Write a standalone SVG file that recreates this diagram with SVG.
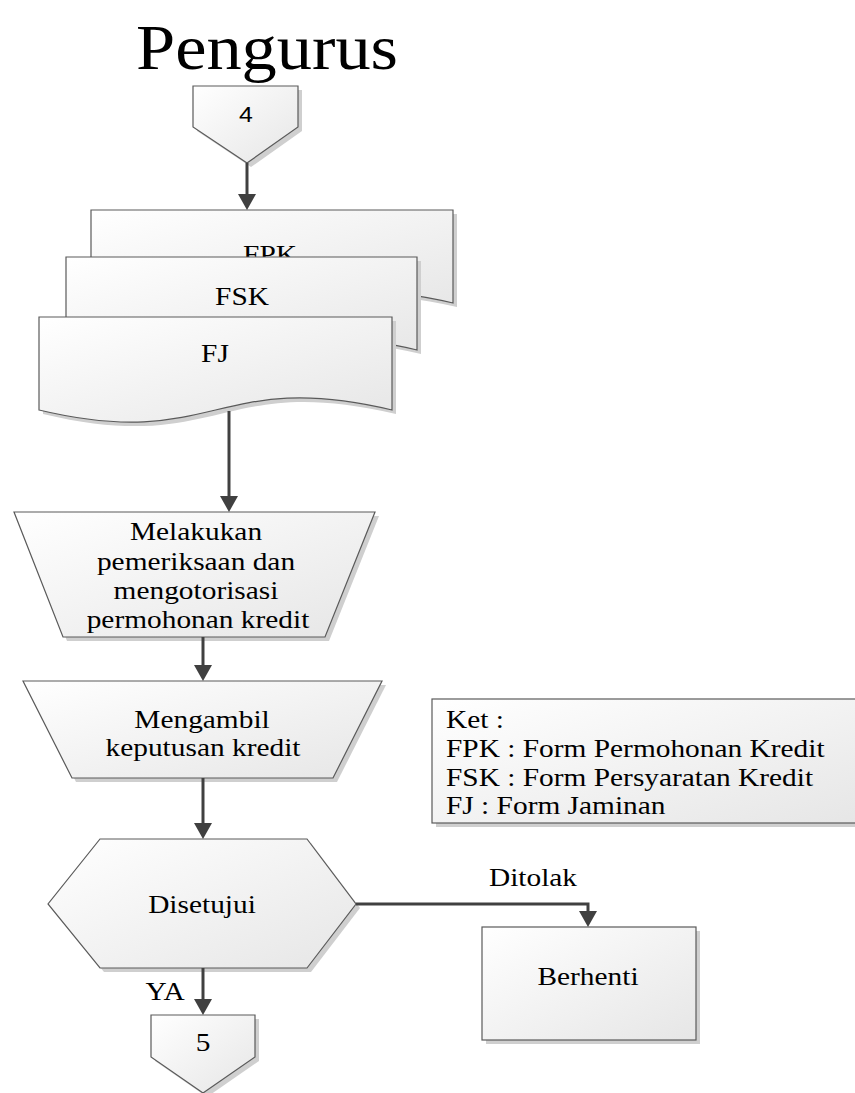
<svg xmlns="http://www.w3.org/2000/svg" width="855" height="1093" viewBox="0 0 855 1093">
  <defs>
    <linearGradient id="fillGrad" x1="0" y1="0" x2="1" y2="1">
      <stop offset="0" stop-color="#ffffff"/>
      <stop offset="1" stop-color="#e6e6e6"/>
    </linearGradient>
    <marker id="ah" markerWidth="16" markerHeight="18" refX="6" refY="9" orient="auto" markerUnits="userSpaceOnUse" viewBox="0 0 16 18">
      <path d="M0,0 L16,9 L0,18 Z" fill="#404040"/>
    </marker>
  </defs>
  <style>
    .shape { fill: url(#fillGrad); stroke: #5a5a5a; stroke-width: 1.2; }
    .shadow { fill: #cfcfcf; stroke: none; }
    .lbl { font-family: "Liberation Serif", "Times New Roman", serif; font-size: 26px; fill: #000; text-anchor: middle; }
    .lbl-l { font-family: "Liberation Serif", "Times New Roman", serif; font-size: 26px; fill: #000; text-anchor: start; }
    .conn { fill: none; stroke: #404040; stroke-width: 3; marker-end: url(#ah); }
  </style>

  <text id="title" class="lbl" style="font-size:64px" transform="translate(267,69) scale(1.1,1)">Pengurus</text>

  <g id="conn4">
    <path class="shadow" d="M197,90 H302 V131 L251,167 L197,131 Z"/>
    <path class="shape" d="M193,86 H298 V127 L247,163 L193,127 Z"/>
    <text class="lbl" style="font-family:'Liberation Sans',Arial,sans-serif;font-size:22px" transform="translate(246,122) scale(1.13,1)">4</text>
  </g>

  <g id="docFPK">
    <path class="shadow" d="M95,214 H457 V307 C276,265 276,349 95,307 Z"/>
    <path class="shape" d="M91,210 H453 V303 C272,261 272,345 91,303 Z"/>
    <text class="lbl" transform="translate(270,263) scale(1.13,1)">FPK</text>
  </g>

  <g id="docFSK">
    <path class="shadow" d="M70,261 H421 V354 C245.5,312 245.5,396 70,354 Z"/>
    <path class="shape" d="M66,257 H417 V350 C241.5,308 241.5,392 66,350 Z"/>
    <text class="lbl" transform="translate(242,305) scale(1.13,1)">FSK</text>
  </g>

  <g id="docFJ">
    <path class="shadow" d="M43,321 H396 V414 C219.5,372 219.5,456 43,414 Z"/>
    <path class="shape" d="M39,317 H392 V410 C215.5,368 215.5,452 39,410 Z"/>
    <text class="lbl" transform="translate(215,362) scale(1.13,1)">FJ</text>
  </g>

  <g id="manual1">
    <path class="shadow" d="M18,516 H379 L329,641 H67 Z"/>
    <path class="shape" d="M14,512 H375 L325,637 H63 Z"/>
    <text class="lbl" transform="translate(196,540) scale(1.13,1)">Melakukan</text>
    <text class="lbl" transform="translate(196,570) scale(1.13,1)">pemeriksaan dan</text>
    <text class="lbl" transform="translate(196,599) scale(1.13,1)">mengotorisasi</text>
    <text class="lbl" transform="translate(198,628) scale(1.13,1)">permohonan kredit</text>
  </g>

  <g id="manual2">
    <path class="shadow" d="M27,685 H386 L337,782 H76 Z"/>
    <path class="shape" d="M23,681 H382 L333,778 H72 Z"/>
    <text class="lbl" transform="translate(202,728) scale(1.13,1)">Mengambil</text>
    <text class="lbl" transform="translate(203,756) scale(1.13,1)">keputusan kredit</text>
  </g>

  <g id="ket">
    <rect class="shadow" x="436" y="703" width="430" height="124"/>
    <rect class="shape" x="432" y="699" width="430" height="124"/>
    <text class="lbl-l" transform="translate(446,728) scale(1.13,1)">Ket :</text>
    <text class="lbl-l" transform="translate(446,757) scale(1.13,1)">FPK : Form Permohonan Kredit</text>
    <text class="lbl-l" transform="translate(446,786) scale(1.13,1)">FSK : Form Persyaratan Kredit</text>
    <text class="lbl-l" transform="translate(446,814) scale(1.13,1)">FJ : Form Jaminan</text>
  </g>

  <g id="decision">
    <path class="shadow" d="M104,843 H311 L360,908 L311,972 H104 L52,908 Z"/>
    <path class="shape" d="M100,839 H307 L356,904 L307,968 H100 L48,904 Z"/>
    <text class="lbl" transform="translate(202,913) scale(1.13,1)">Disetujui</text>
  </g>

  <g id="berhenti">
    <rect class="shadow" x="486" y="931" width="214" height="113"/>
    <rect class="shape" x="482" y="927" width="214" height="113"/>
    <text class="lbl" transform="translate(588,985) scale(1.13,1)">Berhenti</text>
  </g>

  <g id="conn5">
    <path class="shadow" d="M155,1019 H259 V1061 L207,1097 L155,1061 Z"/>
    <path class="shape" d="M151,1015 H255 V1057 L203,1093 L151,1057 Z"/>
    <text class="lbl" transform="translate(203,1051) scale(1.13,1)">5</text>
  </g>

  <g id="connectors">
    <path class="conn" d="M247,163 V200"/>
    <path class="conn" d="M229,411 V502"/>
    <path class="conn" d="M203,637 V671"/>
    <path class="conn" d="M203,778 V829"/>
    <path class="conn" d="M356,904 H588 V917"/>
    <path class="conn" d="M203,968 V1005"/>
    <text class="lbl" transform="translate(533,886) scale(1.13,1)">Ditolak</text>
    <text class="lbl" transform="translate(165,1000) scale(1.13,1)">YA</text>
  </g>
</svg>
